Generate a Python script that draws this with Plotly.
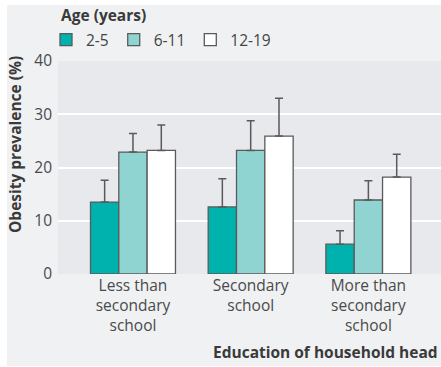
import plotly.graph_objects as go

categories = ["Less than<br>secondary<br>school", "Secondary<br>school", "More than<br>secondary<br>school"]
age_groups = ["2-5", "6-11", "12-19"]
prevalence = {
    "2-5": [13.5, 12.6, 5.6],
    "6-11": [22.9, 23.2, 13.9],
    "12-19": [23.2, 25.9, 18.2],
}
upper_ci = {
    "2-5": [17.6, 17.9, 8.1],
    "6-11": [26.4, 28.8, 17.5],
    "12-19": [28.0, 33.0, 22.5],
}
colors = {"2-5": "#00b2ad", "6-11": "#90d4d2", "12-19": "#ffffff"}

FONT = "Open Sans"
FS = 15.5
TXT = "#3a3a3a"

fig = go.Figure()
for g in age_groups:
    vals = prevalence[g]
    err = [u - v for u, v in zip(upper_ci[g], vals)]
    fig.add_trace(go.Bar(
        name=g, x=categories, y=vals,
        marker=dict(color=colors[g], line=dict(color="#5a5a5a", width=1.3)),
        error_y=dict(type="data", symmetric=False, array=err, arrayminus=[0] * len(vals),
                     color="#5a5a5a", thickness=1.5, width=4),
    ))

W, H = 441, 367
L, R, T, B = 58, 0, 61, 93
pw, ph = W - L - R, H - T - B

def px_x(p):
    return (p - L) / pw

def px_y(p):
    return (H - B - p) / ph

fig.update_layout(
    width=W, height=H,
    margin=dict(l=L, r=R, t=T, b=B, pad=0),
    paper_bgcolor="#ffffff",
    plot_bgcolor="rgba(0,0,0,0)",
    barmode="group",
    bargap=0.278,
    bargroupgap=0,
    font=dict(family=FONT, size=FS, color=TXT),
    showlegend=True,
    legend=dict(
        orientation="h",
        x=px_x(46), xanchor="left",
        y=px_y(40), yanchor="middle",
        font=dict(size=FS, color="#444444"),
        bgcolor="rgba(0,0,0,0)",
        traceorder="normal",
    ),
    xaxis=dict(
        range=[-0.637, 2.617],
        showgrid=False, zeroline=False, showline=False,
        ticks="", tickfont=dict(size=FS, color="#4a4a4a"),
    ),
    yaxis=dict(
        range=[0, 40], tickvals=[0, 10, 20, 30, 40],
        showgrid=True, gridcolor="#ffffff", gridwidth=1.5,
        zeroline=False, showline=False, ticks="",
        ticklabelstandoff=5,
        tickfont=dict(size=FS, color="#4a4a4a"),
    ),
    shapes=[
        dict(type="rect", xref="paper", yref="paper", layer="below",
             x0=px_x(7), x1=1, y0=px_y(366), y1=px_y(5),
             fillcolor="#f0f1f3", line=dict(width=0)),
        dict(type="rect", xref="paper", yref="paper", layer="below",
             x0=0, x1=1, y0=0, y1=1,
             fillcolor="#e8e9ec", line=dict(width=0)),
    ],
    annotations=[
        dict(text="<b>Age (years)</b>",
             xref="paper", yref="paper", x=px_x(59), y=px_y(15),
             xanchor="left", yanchor="middle", showarrow=False,
             font=dict(size=FS, color=TXT)),
        dict(text="<b>Obesity prevalence (%)</b>", textangle=-90,
             xref="paper", yref="paper", x=px_x(15), y=px_y(145),
             xanchor="center", yanchor="middle", showarrow=False,
             font=dict(size=FS, color=TXT)),
        dict(text="<b>Education of household head</b>",
             xref="paper", yref="paper", x=px_x(440), y=px_y(352),
             xanchor="right", yanchor="middle", showarrow=False,
             font=dict(size=FS, color=TXT)),
    ],
)

fig.write_html("out.html")
